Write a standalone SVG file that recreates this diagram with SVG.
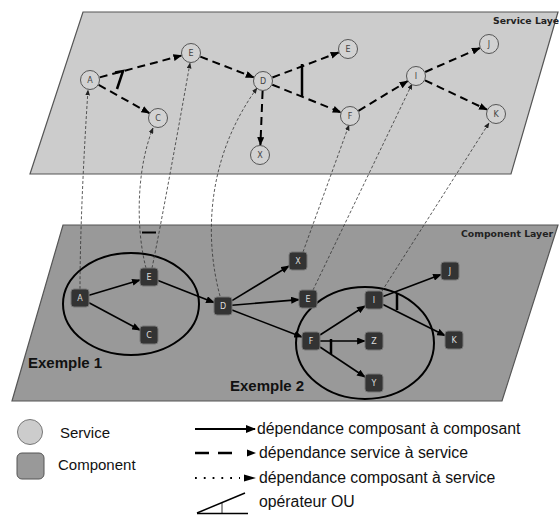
<svg xmlns="http://www.w3.org/2000/svg" width="559" height="515" viewBox="0 0 559 515">
<style>
.layer-s{fill:#cccccc;stroke:#555;stroke-width:1.2}
.layer-c{fill:#999999;stroke:#555;stroke-width:1.2}
.svc{fill:#d2d2d2;stroke:#555;stroke-width:1}
.svct{font-family:"DejaVu Sans",sans-serif;font-size:8px;fill:#444;text-anchor:middle}
.cmp{fill:#333;stroke:#777;stroke-width:1}
.cmpt{font-family:"DejaVu Sans",sans-serif;font-size:8px;fill:#ddd;text-anchor:middle}
.lt{font-family:"DejaVu Sans",sans-serif;font-size:9.3px;font-weight:bold;fill:#222}
.dash{fill:none;stroke:#000;stroke-width:2;stroke-dasharray:8 5;marker-end:url(#ah)}
.solid{fill:none;stroke:#000;stroke-width:1.6;marker-end:url(#ah)}
.dot{fill:none;stroke:#333;stroke-width:0.8;stroke-dasharray:3 2;marker-end:url(#sh)}
.or{stroke:#000;stroke-width:2.5;fill:none}
.ell{fill:none;stroke:#000;stroke-width:2}
.ex{font-family:"Liberation Sans",Arial,sans-serif;font-size:15px;font-weight:bold;fill:#111}
.leg{font-family:"Liberation Sans",Arial,sans-serif;font-size:15px;fill:#111}
.leg2{font-family:"Liberation Sans",Arial,sans-serif;font-size:15.8px;fill:#111}
</style>
<defs>
<marker id="ah" viewBox="0 0 10 8" refX="9" refY="4" markerWidth="9" markerHeight="7" markerUnits="userSpaceOnUse" orient="auto"><path d="M0,0 L10,4 L0,8 z" fill="#000"/></marker>
<marker id="sh" viewBox="0 0 10 8" refX="9" refY="4" markerWidth="6" markerHeight="5" markerUnits="userSpaceOnUse" orient="auto"><path d="M0,0 L10,4 L0,8 z" fill="#222"/></marker>
<marker id="lh" viewBox="0 0 10 8" refX="9" refY="4" markerWidth="10" markerHeight="8" markerUnits="userSpaceOnUse" orient="auto"><path d="M0,0 L10,4 L0,8 z" fill="#000"/></marker>
</defs>

<g id="service-layer">
<polygon class="layer-s" points="83,12 558,12 511,174 30,174"/>
<text class="lt" x="493" y="24">Service Laye</text>
</g>

<g id="component-layer">
<polygon class="layer-c" points="63,225 558,225 502,401 12,401"/>
<text class="lt" x="461" y="237">Component Layer</text>
</g>

<g id="examples">
<ellipse class="ell" cx="131" cy="304" rx="68" ry="51"/>
<ellipse class="ell" cx="365" cy="343" rx="69" ry="56"/>
<text class="ex" x="28" y="368">Exemple 1</text>
<text class="ex" x="230" y="391">Exemple 2</text>
</g>

<g id="connectors">
<!-- service to service -->
<line class="dash" x1="99.7" y1="77.4" x2="181.3" y2="55.6"/>
<line class="dash" x1="98.7" y1="84.9" x2="149.3" y2="113.1"/>
<line class="dash" x1="200.3" y1="56.6" x2="253.7" y2="77.4"/>
<line class="dash" x1="272.4" y1="77.5" x2="338.6" y2="52.5"/>
<line class="dash" x1="272.3" y1="84.7" x2="340.7" y2="112.3"/>
<line class="dash" x1="262.6" y1="91" x2="260.4" y2="145"/>
<line class="dash" x1="358.5" y1="110.8" x2="407.5" y2="81.2"/>
<line class="dash" x1="425.2" y1="72" x2="479.8" y2="48"/>
<line class="dash" x1="425" y1="80.3" x2="487" y2="109.7"/>
<!-- OR operators service layer -->
<path class="or" d="M115,72.5 L123,71 L117,89"/>
<line class="or" x1="302" y1="64" x2="302" y2="96"/>
<!-- component to component -->
<line class="solid" x1="89" y1="295.3" x2="140" y2="280"/>
<line class="solid" x1="89" y1="302.8" x2="140" y2="330"/>
<line class="solid" x1="158" y1="280.5" x2="214" y2="302.5"/>
<line class="solid" x1="232" y1="300.6" x2="289" y2="266"/>
<line class="solid" x1="232" y1="305.2" x2="299" y2="299.6"/>
<line class="solid" x1="232" y1="310" x2="302" y2="337"/>
<line class="solid" x1="320" y1="335" x2="365" y2="306"/>
<line class="solid" x1="320" y1="341" x2="365" y2="341"/>
<line class="solid" x1="320" y1="347" x2="365" y2="377"/>
<line class="solid" x1="383" y1="296.5" x2="441" y2="274.5"/>
<line class="solid" x1="383" y1="304.5" x2="445" y2="335.5"/>
<!-- OR operators component layer -->
<line class="or" x1="331" y1="339" x2="331" y2="354"/>
<line class="or" x1="397" y1="293" x2="397" y2="310"/>
<line class="or" x1="142" y1="232.5" x2="156" y2="232.5" style="stroke-width:2"/>
<!-- component to service -->
<path class="dot" d="M80,289 C80,230 84,150 88,90"/>
<path class="dot" d="M146,268 C136,230 136,170 153,128"/>
<path class="dot" d="M152,268 C160,230 180,120 190,63"/>
<path class="dot" d="M220,296 C205,240 205,160 257,88"/>
<path class="dot" d="M303,252 L349,125"/>
<path class="dot" d="M313,290 L412,84"/>
<path class="dot" d="M382,291 L489,123"/>
</g>

<g id="svc-A"><circle class="svc" cx="90" cy="80" r="9.5"/><text class="svct" x="90" y="83">A</text></g>
<g id="svc-E1"><circle class="svc" cx="191" cy="53" r="9.5"/><text class="svct" x="191" y="56">E</text></g>
<g id="svc-C"><circle class="svc" cx="158" cy="118" r="9.5"/><text class="svct" x="158" y="121">C</text></g>
<g id="svc-D"><circle class="svc" cx="263" cy="81" r="9.5"/><text class="svct" x="263" y="84">D</text></g>
<g id="svc-X"><circle class="svc" cx="260" cy="155" r="9.5"/><text class="svct" x="260" y="158">X</text></g>
<g id="svc-E2"><circle class="svc" cx="348" cy="49" r="9.5"/><text class="svct" x="348" y="52">E</text></g>
<g id="svc-F"><circle class="svc" cx="350" cy="116" r="9.5"/><text class="svct" x="350" y="119">F</text></g>
<g id="svc-I"><circle class="svc" cx="416" cy="76" r="9.5"/><text class="svct" x="416" y="79">I</text></g>
<g id="svc-J"><circle class="svc" cx="489" cy="44" r="9.5"/><text class="svct" x="489" y="47">J</text></g>
<g id="svc-K"><circle class="svc" cx="496" cy="114" r="9.5"/><text class="svct" x="496" y="117">K</text></g>

<g id="cmp-A"><rect class="cmp" x="71" y="289" width="18" height="18" rx="3"/><text class="cmpt" x="80" y="301">A</text></g>
<g id="cmp-E1"><rect class="cmp" x="140" y="268" width="18" height="18" rx="3"/><text class="cmpt" x="149" y="280">E</text></g>
<g id="cmp-C"><rect class="cmp" x="140" y="326" width="18" height="18" rx="3"/><text class="cmpt" x="149" y="338">C</text></g>
<g id="cmp-D"><rect class="cmp" x="214" y="297" width="18" height="18" rx="3"/><text class="cmpt" x="223" y="309">D</text></g>
<g id="cmp-X"><rect class="cmp" x="289" y="252" width="18" height="18" rx="3"/><text class="cmpt" x="298" y="264">X</text></g>
<g id="cmp-E2"><rect class="cmp" x="299" y="290" width="18" height="18" rx="3"/><text class="cmpt" x="308" y="302">E</text></g>
<g id="cmp-F"><rect class="cmp" x="302" y="332" width="18" height="18" rx="3"/><text class="cmpt" x="311" y="344">F</text></g>
<g id="cmp-I"><rect class="cmp" x="365" y="291" width="18" height="18" rx="3"/><text class="cmpt" x="374" y="303">I</text></g>
<g id="cmp-J"><rect class="cmp" x="441" y="262" width="18" height="18" rx="3"/><text class="cmpt" x="450" y="274">J</text></g>
<g id="cmp-Z"><rect class="cmp" x="365" y="332" width="18" height="18" rx="3"/><text class="cmpt" x="374" y="344">Z</text></g>
<g id="cmp-K"><rect class="cmp" x="445" y="331" width="18" height="18" rx="3"/><text class="cmpt" x="454" y="343">K</text></g>
<g id="cmp-Y"><rect class="cmp" x="365" y="374" width="18" height="18" rx="3"/><text class="cmpt" x="374" y="386">Y</text></g>

<g id="legend">
<circle cx="30" cy="432" r="12.5" fill="#cccccc" stroke="#777" stroke-width="1"/>
<text class="leg" x="60" y="438">Service</text>
<rect x="17" y="453" width="27" height="26" rx="5" fill="#999999" stroke="#555" stroke-width="1"/>
<text class="leg" x="58" y="470">Component</text>
<line x1="195" y1="429" x2="255" y2="429" stroke="#000" stroke-width="2" marker-end="url(#lh)"/>
<text class="leg2" x="257" y="434">dépendance composant à composant</text>
<line x1="195" y1="453" x2="233" y2="453" stroke="#000" stroke-width="2.5" stroke-dasharray="14 9"/>
<path d="M247,449.5 L256,453 L247,456.5 z" fill="#000"/>
<text class="leg2" x="259" y="458">dépendance service à service</text>
<line x1="195" y1="478" x2="240" y2="478" stroke="#000" stroke-width="1.8" stroke-dasharray="1.8 7"/>
<path d="M244,474.5 L256,478 L244,481.5 z" fill="#000"/>
<text class="leg2" x="259" y="483">dépendance composant à service</text>
<line x1="197" y1="513" x2="245" y2="493" stroke="#000" stroke-width="1.5"/>
<line x1="197" y1="513.5" x2="248" y2="513.5" stroke="#000" stroke-width="1.5"/>
<line x1="222" y1="503" x2="222" y2="513" stroke="#000" stroke-width="0.8"/>
<text class="leg2" x="259" y="507">opérateur OU</text>
</g>
</svg>
